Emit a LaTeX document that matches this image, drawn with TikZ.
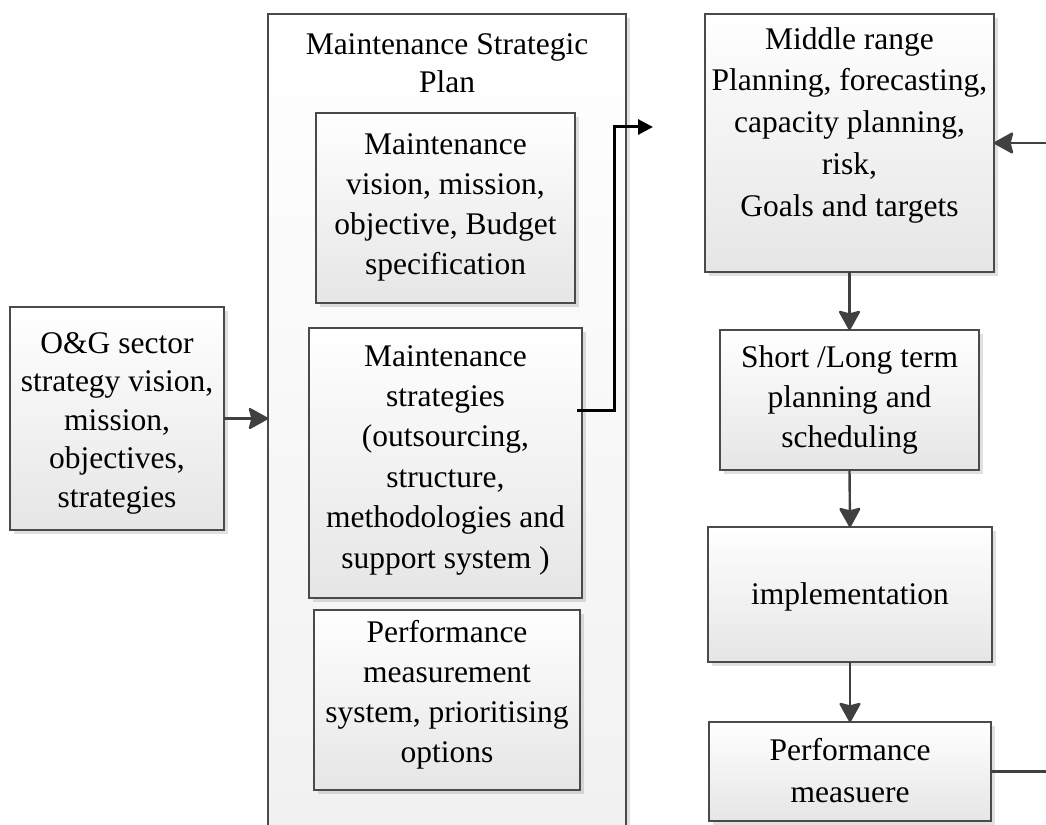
\documentclass[tikz,border=0pt]{standalone}
\usepackage{fontspec}
\setmainfont{Liberation Serif}
\usetikzlibrary{arrows.meta,shadows}
\definecolor{bordergray}{HTML}{4A4A4A}
\definecolor{arrowgray}{HTML}{404040}
\tikzset{
  box/.style={draw=bordergray, line width=1.3pt, top color=white, bottom color=black!10,
    drop shadow={shadow xshift=4pt, shadow yshift=-4pt, fill=black, opacity=0.12},
    outer sep=0pt, inner sep=0pt},
  txt/.style={align=center, inner sep=0pt, outer sep=0pt},
  arr/.style={draw=arrowgray, line width=2.4pt, -{Stealth[length=21pt,width=23pt,inset=3pt,round=false]}},
  blkarr/.style={draw=black, line width=3pt, -{Triangle[length=15pt,width=15pt]}},
  plainline/.style={draw=arrowgray, line width=2.4pt}
}
\newcommand{\bls}[1]{\fontsize{31.5}{#1}\selectfont}
\begin{document}
\begin{tikzpicture}[x=1pt,y=-1pt,font=\fontsize{31.5}{40}\selectfont]
\useasboundingbox (0,0) rectangle (1046,824);
% main box
\node[box, minimum width=358pt, minimum height=886pt, top color=white, bottom color=black!6] (main) at (447,457) {};
\node[txt, font=\bls{38}] (title) at (447,63) {Maintenance Strategic\\Plan};
% left box
\node[box, minimum width=214pt, minimum height=223pt] (og) at (117,418.5) {};
\node[txt, font=\bls{38.5}] (ogtxt) at (117,423)
  {O\&G sector\\strategy vision,\\mission,\\objectives,\\strategies};
% inner boxes
\node[box, minimum width=259pt, minimum height=190pt] (in1) at (445.5,208) {};
\node[txt] (in1txt) at (445.5,207.5)
  {Maintenance\\vision, mission,\\objective, Budget\\specification};
\node[box, minimum width=273pt, minimum height=270pt] (in2) at (445.5,463) {};
\node[txt, font=\bls{40.4}] (in2txt) at (445.5,460)
  {Maintenance\\strategies\\(outsourcing,\\structure,\\methodologies and\\support system )};
\node[box, minimum width=266pt, minimum height=180pt] (in3) at (447,700) {};
\node[txt] (in3txt) at (447,694.5)
  {Performance\\measurement\\system, prioritising\\options};
% right column
\node[box, minimum width=289pt, minimum height=258pt] (mid) at (849.5,143) {};
\node[txt, font=\bls{41.75}] (midtxt) at (849.5,125)
  {Middle range\\Planning, forecasting,\\capacity planning,\\risk,\\Goals and targets};
\node[box, minimum width=259pt, minimum height=140pt] (slt) at (849.5,400) {};
\node[txt] (slttxt) at (849.5,399.5) {Short /Long term\\planning and\\scheduling};
\node[box, minimum width=284pt, minimum height=135pt] (impl) at (850,594.5) {};
\node[txt] (impltxt) at (850,597) {implementation};
\node[box, minimum width=282pt, minimum height=99pt] (perf) at (850,771.5) {};
\node[txt, font=\bls{42}] (perftxt) at (850,771) {Performance\\measuere};
% connectors
\draw[arr] (og.east) -- (og.east -| main.west);
\coordinate (bstart) at (577,410);
\coordinate (bturn) at (614,127);
\coordinate (bend) at (653,127);
\draw[blkarr] (bstart) -| (bturn) -- (bend);
\coordinate (rin) at (1046,143);
\draw[arr] (rin) -- (mid.east);
\draw[arr] (mid.south) -- (slt.north);
\draw[arr] (slt.south) -- (impl.north);
\draw[arr] (impl.south) -- (perf.north);
\coordinate (rout) at (1046,771.5);
\draw[plainline] (perf.east) -- (rout);
\end{tikzpicture}
\end{document}
